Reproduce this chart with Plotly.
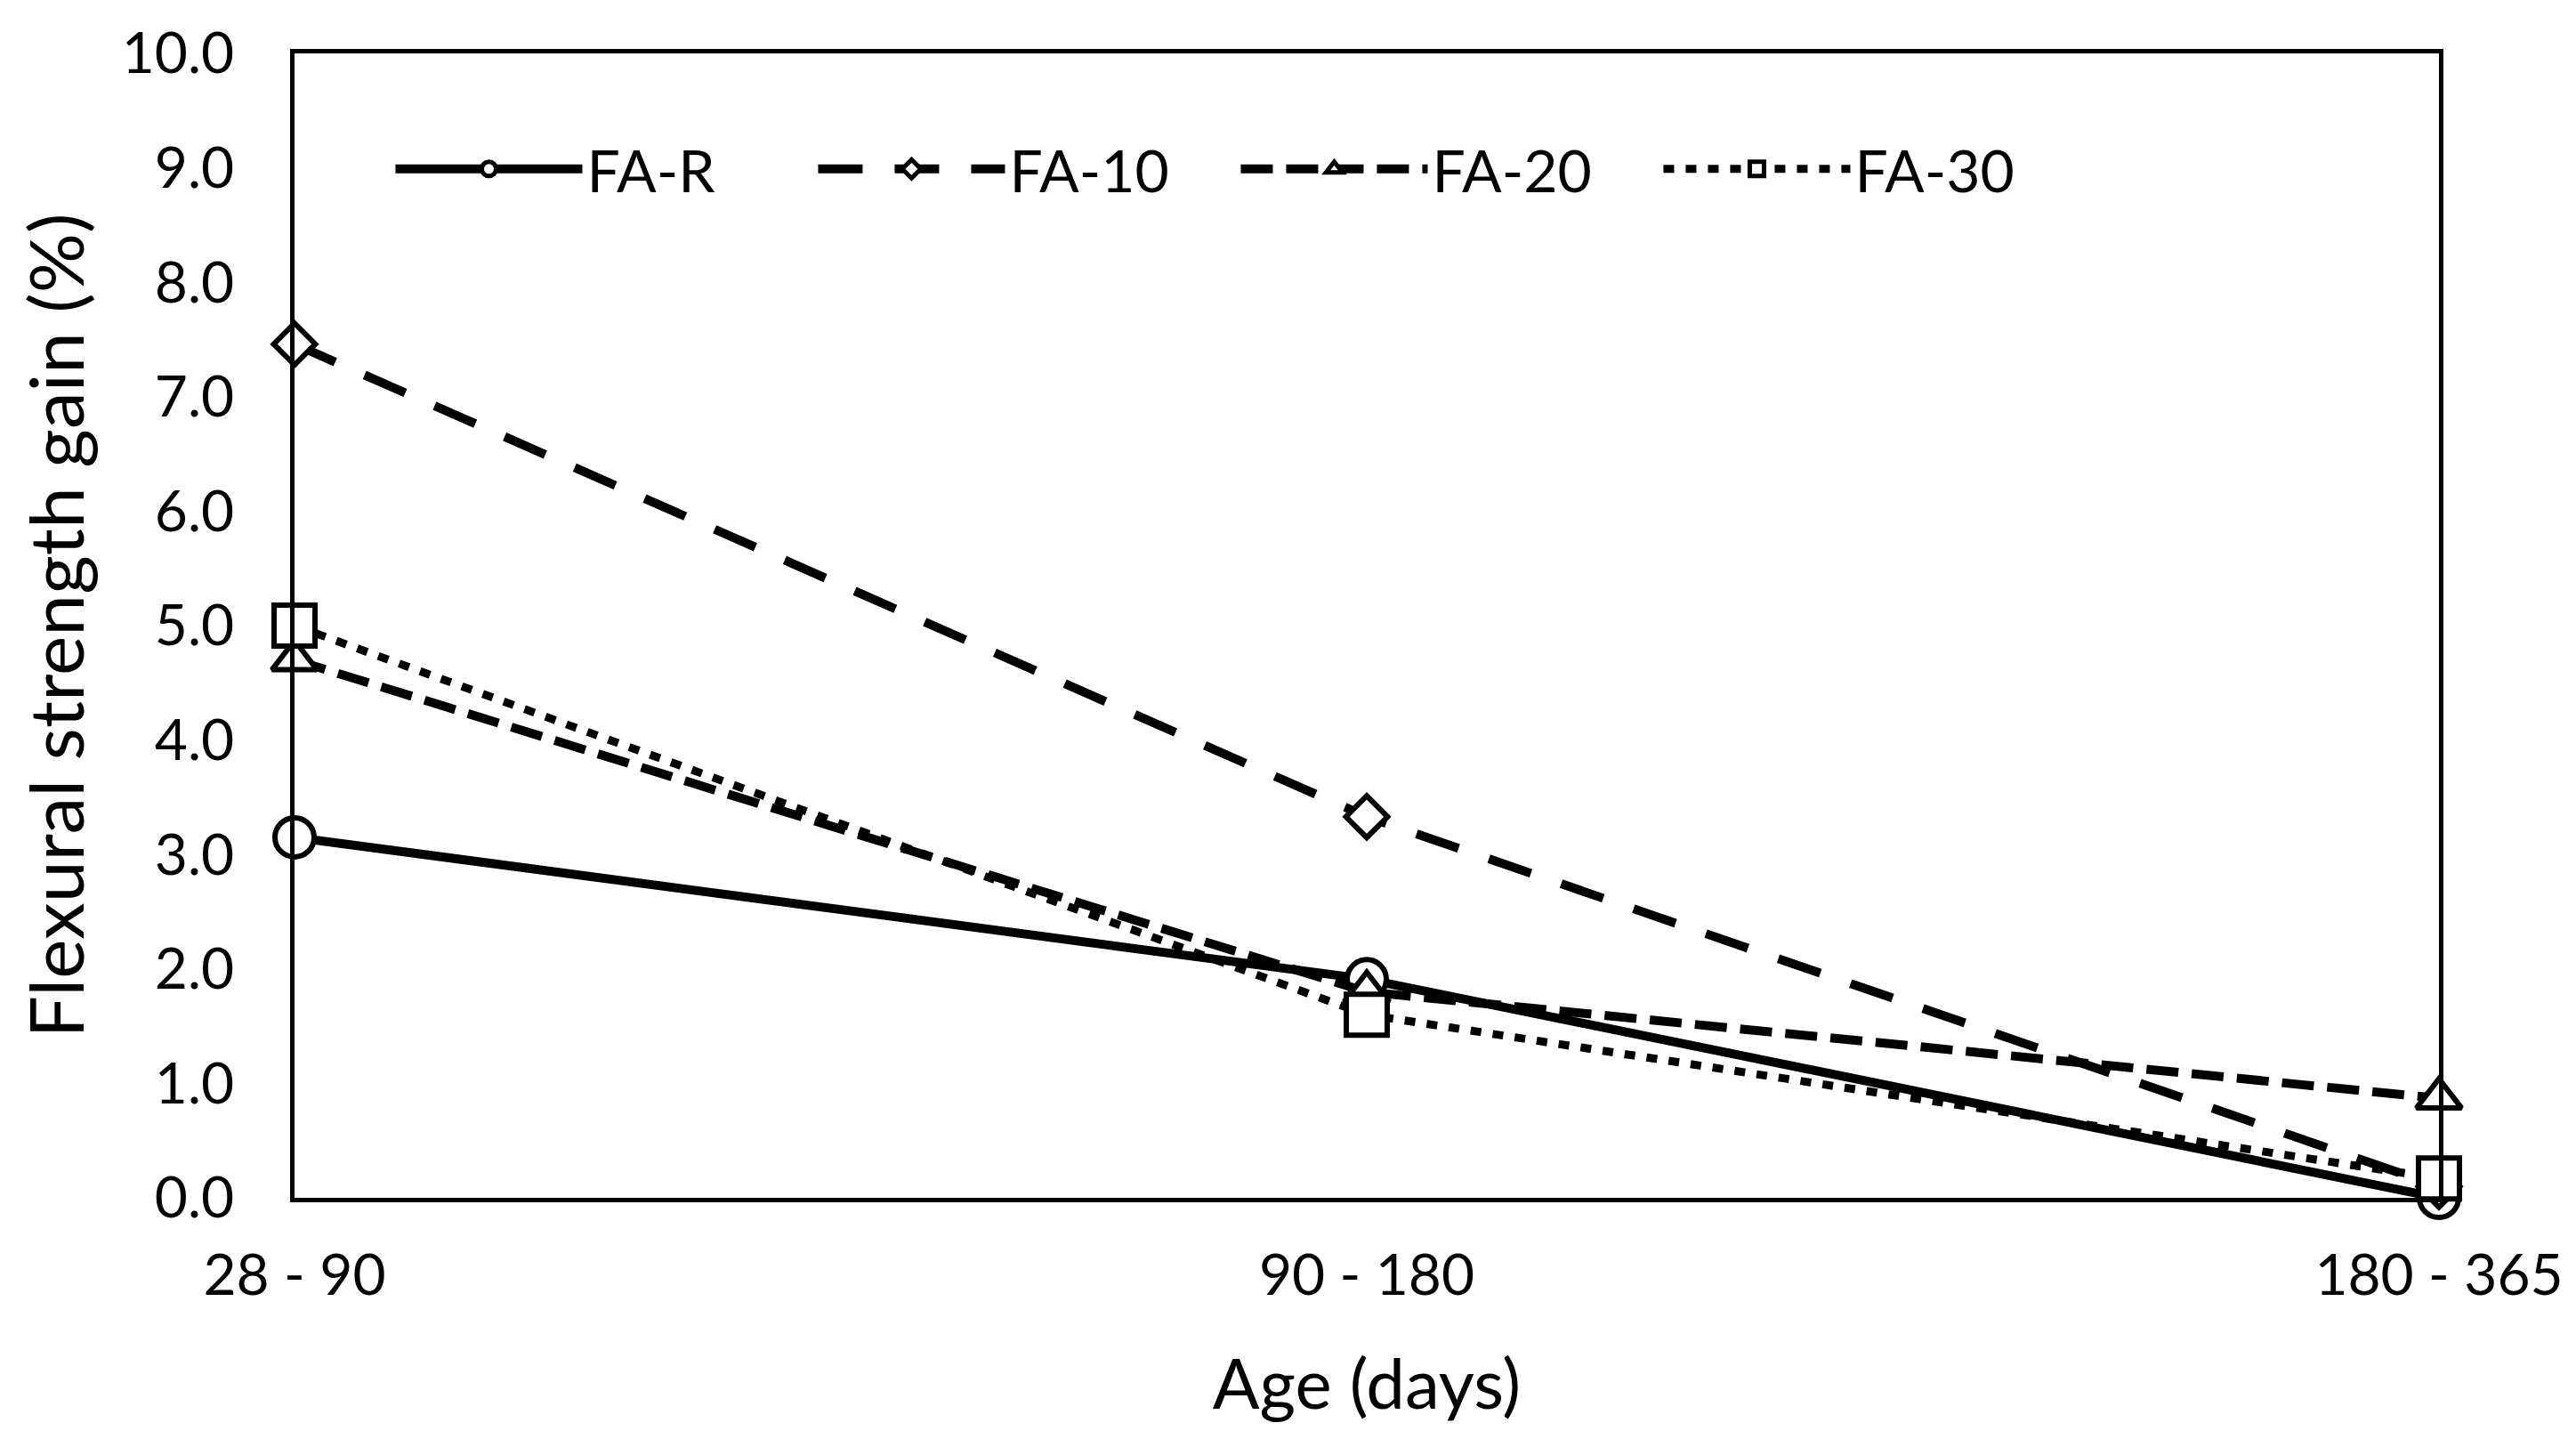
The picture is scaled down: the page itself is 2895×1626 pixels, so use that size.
import plotly.graph_objects as go

categories = ["28 - 90", "90 - 180", "180 - 365"]
series_names = ["FA-R", "FA-10", "FA-20", "FA-30"]
fa_r = [3.15, 1.91, 0.0]
fa_10 = [7.46, 3.33, 0.1]
fa_20 = [4.7, 1.8, 0.87]
fa_30 = [5.0, 1.6, 0.17]
y_ticks = [0, 1, 2, 3, 4, 5, 6, 7, 8, 9, 10]

styles = [
    dict(dash="solid", width=10, symbol="circle", size=44),
    dict(dash="50px,36px", width=10, symbol="diamond", size=36),
    dict(dash="36px,15px", width=10, symbol="triangle-up", size=44),
    dict(dash="12px,13px", width=9, symbol="square", size=46),
]
values = [fa_r, fa_10, fa_20, fa_30]

fig = go.Figure()
x_idx = list(range(len(categories)))
for name, vals, st in zip(series_names, values, styles):
    fig.add_trace(go.Scatter(
        x=x_idx, y=vals, name=name, mode="lines+markers",
        line=dict(color="black", width=st["width"], dash=st["dash"]),
        marker=dict(symbol=st["symbol"], size=st["size"], color="white",
                    line=dict(color="black", width=6)),
        cliponaxis=False,
    ))

fig.update_layout(
    width=2895, height=1626,
    paper_bgcolor="white", plot_bgcolor="white",
    margin=dict(l=323, r=162, t=52, b=288, autoexpand=False),
    font=dict(family="Lato", color="black", size=64),
    showlegend=True,
    legend=dict(orientation="h", x=0.045, y=0.899, xanchor="left", yanchor="middle",
                font=dict(size=66, family="Lato"), itemwidth=210,
                entrywidthmode="pixels", entrywidth=250,
                bgcolor="rgba(0,0,0,0)", traceorder="normal"),
    xaxis=dict(range=[0, 2], tickmode="array", tickvals=x_idx, ticktext=categories,
               showgrid=False, zeroline=False, showline=True, linecolor="black",
               linewidth=5, mirror=True, ticks="", ticklabelstandoff=27,
               tickfont=dict(size=64, family="Lato"),
               title=dict(text="Age (days)", font=dict(size=78, family="Lato"), standoff=62)),
    yaxis=dict(range=[0, 10], tickmode="array", tickvals=y_ticks,
               ticktext=[f"{v:.1f}" for v in y_ticks],
               showgrid=False, zeroline=False, showline=True, linecolor="black",
               linewidth=5, mirror=True, ticks="", ticklabelstandoff=50,
               tickfont=dict(size=64, family="Lato"),
               title=dict(text="Flexural strength gain (%)", font=dict(size=84, family="Lato"), standoff=16)),
)

fig.write_html("out.html")
